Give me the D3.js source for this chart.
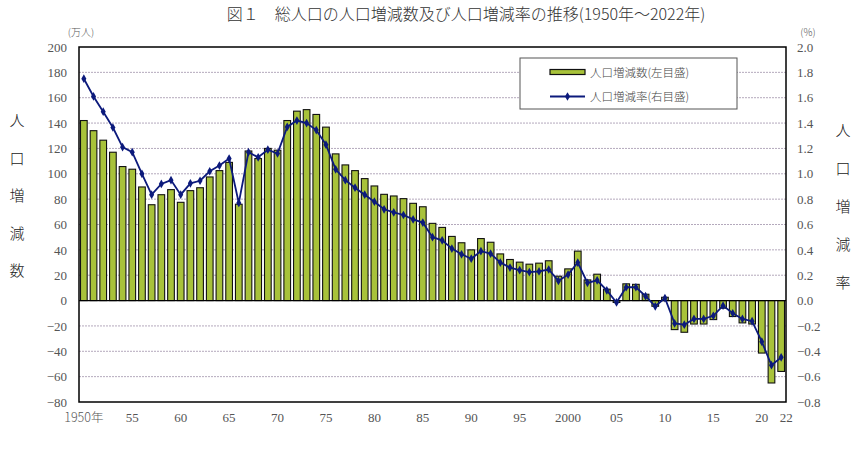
<!DOCTYPE html>
<html><head><meta charset="utf-8">
<script src="https://cdn.jsdelivr.net/npm/d3@7"></script>
<style>body{margin:0;background:#fff;}svg{display:block;}</style>
</head><body>
<svg id="c" width="867" height="449"></svg>
<script>
const years = d3.range(1950, 2023);
const changeValues = [142,134,126.5,117,105.7,103.6,89.6,75.6,83.5,87.5,
77.5,86.7,89,97.5,102.5,109,76,118,112,120,
118.6,142,149.4,150.6,146.8,136.8,115.7,107,102.5,96.2,
90.4,83.8,82.5,80.4,76.7,74,60.9,57.7,50.6,45.6,
40,48.9,46,36.8,32.4,30.3,28.7,29.5,31.4,19.2,
25,39,16.3,20.8,9,-1.5,13.2,12.8,5,-4.5,
2.6,-22.9,-25,-18.5,-18.5,-15,-6,-12.6,-17.6,-18.5,
-41.4,-65,-55.9];
const rateValues = [1.75,1.61,1.49,1.365,1.21,1.17,1.00,0.835,0.92,0.95,
0.835,0.925,0.945,1.02,1.065,1.12,0.77,1.17,1.13,1.19,
1.16,1.37,1.42,1.40,1.345,1.23,1.035,0.95,0.89,0.835,
0.78,0.72,0.695,0.675,0.64,0.615,0.50,0.475,0.41,0.365,
0.33,0.39,0.37,0.30,0.26,0.24,0.225,0.23,0.245,0.155,
0.205,0.30,0.14,0.16,0.08,-0.015,0.105,0.105,0.035,-0.045,
0.02,-0.18,-0.19,-0.145,-0.145,-0.12,-0.04,-0.10,-0.145,-0.163,
-0.324,-0.51,-0.448];
const leftTicks = d3.range(-80, 201, 20);
const rightTicks = d3.range(-8, 21, 2).map(v => v / 10);
const xTickYears = [1950,1955,1960,1965,1970,1975,1980,1985,1990,1995,2000,2005,2010,2015,2020,2022];
const titleText = "図１　総人口の人口増減数及び人口増減率の推移(1950年～2022年)";
const leftUnit = "(万人)", rightUnit = "(%)";
const leftAxisTitle = "人口増減数", rightAxisTitle = "人口増減率";
const legendLabels = ["人口増減数(左目盛)", "人口増減率(右目盛)"];

const svg = d3.select("#c");
const L = 79, R = 786, T = 47, B = 402;
const x = d3.scaleBand().domain(years).range([L, R]).paddingInner(0.31).paddingOuter(0.155);
const yL = d3.scaleLinear().domain([-80, 200]).range([B, T]);
const yR = d3.scaleLinear().domain([-0.8, 2.0]).range([B, T]);
const cx = d => x(d) + x.bandwidth() / 2;
const numFont = "'Liberation Serif','DejaVu Serif',serif";
const cjkFont = "'Noto Sans CJK JP','Noto Sans',sans-serif";

// title
svg.append("text").attr("x", 466).attr("y", 20).attr("text-anchor", "middle")
  .attr("font-family", cjkFont).attr("font-size", 16).attr("font-weight", 300)
  .attr("fill", "#333").text(titleText);
svg.append("text").attr("x", 81).attr("y", 36).attr("text-anchor", "middle")
  .attr("font-family", cjkFont).attr("font-size", 10).attr("font-weight", 300).attr("fill", "#555").text(leftUnit);
svg.append("text").attr("x", 808).attr("y", 36).attr("text-anchor", "middle")
  .attr("font-family", cjkFont).attr("font-size", 10).attr("font-weight", 300).attr("fill", "#555").text(rightUnit);

// gridlines
svg.append("g").selectAll("line").data(leftTicks.filter(v => v !== 0 && v !== 200 && v !== -80)).join("line")
  .attr("x1", L).attr("x2", R).attr("y1", d => yL(d)).attr("y2", d => yL(d))
  .attr("stroke", "#b4a9bc").attr("stroke-width", 1).attr("stroke-dasharray", "2,1");

// bars
svg.append("g").selectAll("rect").data(years).join("rect")
  .attr("x", d => x(d)).attr("width", x.bandwidth())
  .attr("y", (d, i) => yL(Math.max(0, changeValues[i])))
  .attr("height", (d, i) => Math.abs(yL(changeValues[i]) - yL(0)))
  .attr("fill", "#a8c23a").attr("stroke", "#111").attr("stroke-width", 1.1);

// zero line
svg.append("line").attr("x1", L).attr("x2", R).attr("y1", yL(0)).attr("y2", yL(0))
  .attr("stroke", "#000").attr("stroke-width", 1.3);

// frame
svg.append("rect").attr("x", L).attr("y", T).attr("width", R - L).attr("height", B - T)
  .attr("fill", "none").attr("stroke", "#000").attr("stroke-width", 1.5);

// line
const line = d3.line().x((d, i) => cx(years[i])).y(d => yR(d));
svg.append("path").datum(rateValues).attr("d", line).attr("fill", "none")
  .attr("stroke", "#0c1a7c").attr("stroke-width", 1.8);
const diamond = d3.symbol().type(d3.symbolDiamond).size(22);
svg.append("g").selectAll("path").data(rateValues).join("path")
  .attr("d", diamond).attr("transform", (d, i) => `translate(${cx(years[i])},${yR(d)})`)
  .attr("fill", "#0c1a7c");

// axes
const gL = svg.append("g").attr("transform", `translate(${L - 12},0)`)
  .call(d3.axisLeft(yL).tickValues(leftTicks).tickSize(0).tickFormat(d3.format("d")));
gL.select(".domain").remove();
gL.selectAll("text").attr("font-family", numFont).attr("font-size", 13).attr("fill", "#555").attr("x", 0);

const gR = svg.append("g").attr("transform", `translate(${R + 11},0)`)
  .call(d3.axisRight(yR).tickValues(rightTicks).tickSize(0).tickFormat(d3.format(".1f")));
gR.select(".domain").remove();
gR.selectAll("text").attr("font-family", numFont).attr("font-size", 13).attr("fill", "#555").attr("x", 0);

const gX = svg.append("g").attr("transform", `translate(0,${B + 8})`)
  .call(d3.axisBottom(x).tickValues(xTickYears).tickSize(0)
    .tickFormat(d => d === 1950 ? "1950年" : d === 2000 ? "2000" : String(d % 100).padStart(2, "0")));
gX.select(".domain").remove();
gX.selectAll("text").attr("font-family", d => d === 1950 ? cjkFont : numFont)
  .attr("font-weight", d => d === 1950 ? 300 : 400)
  .attr("font-size", d => d === 1950 ? 12.5 : 13).attr("fill", "#555")
  .attr("dx", d => d === 2022 ? 5 : 0);

// vertical axis titles
svg.append("g").selectAll("text").data(Array.from(leftAxisTitle)).join("text")
  .attr("x", 17).attr("y", (d, i) => 126 + i * 37.5).attr("text-anchor", "middle")
  .attr("font-family", cjkFont).attr("font-size", 15).attr("font-weight", 300).attr("fill", "#222").text(d => d);
svg.append("g").selectAll("text").data(Array.from(rightAxisTitle)).join("text")
  .attr("x", 843).attr("y", 136).attr("dy", (d, i) => i * 38).attr("text-anchor", "middle")
  .attr("font-family", cjkFont).attr("font-size", 15).attr("font-weight", 300).attr("fill", "#222").text(d => d);

// legend
const lg = svg.append("g");
lg.append("rect").attr("x", 520).attr("y", 58).attr("width", 217).attr("height", 51)
  .attr("fill", "#fff").attr("stroke", "#555").attr("stroke-width", 1);
lg.append("rect").attr("x", 550).attr("y", 69.5).attr("width", 35).attr("height", 5)
  .attr("fill", "#a8c23a").attr("stroke", "#111").attr("stroke-width", 1.2);
lg.append("line").attr("x1", 550).attr("x2", 585).attr("y1", 96.5).attr("y2", 96.5)
  .attr("stroke", "#0c1a7c").attr("stroke-width", 1.8);
lg.append("path").attr("d", diamond).attr("transform", "translate(567.5,96.5)").attr("fill", "#0c1a7c");
lg.selectAll("text.l").data(legendLabels).join("text").attr("class", "l")
  .attr("x", 590).attr("y", (d, i) => 76.5 + i * 24)
  .attr("font-family", cjkFont).attr("font-size", 11.5).attr("font-weight", 300).attr("fill", "#444").text(d => d);
</script>
</body></html>
